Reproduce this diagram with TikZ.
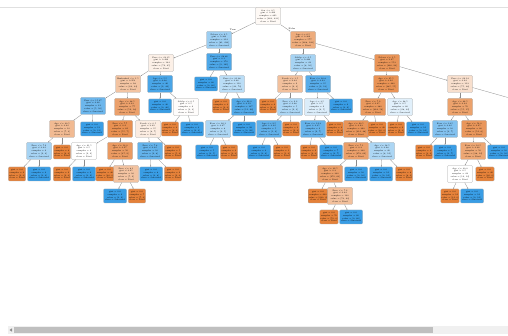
\documentclass[tikz,border=0pt]{standalone}
\usetikzlibrary{arrows.meta}
\definecolor{orn}{HTML}{E58139}
\definecolor{bln}{HTML}{399DE5}
\newcommand\In[5]{#1\\gini = #2\\samples = #3\\value = #4\\class = #5}
\newcommand\Lo[1]{gini = 0.0\\samples = #1\\value = [#1, 0]\\class = Died}
\newcommand\Lb[1]{gini = 0.0\\samples = #1\\value = [0, #1]\\class = Survived}
\tikzset{
 box/.style={draw=black!35, line width=0.25pt, rounded corners=1pt, align=center, inner sep=0.4pt, font=\fontsize{2}{2.8}\selectfont},
 inode/.style={box, minimum width=25pt, minimum height=17pt},
 lo/.style={box, fill=orn, minimum width=16pt, minimum height=14pt},
 lb/.style={box, fill=bln, minimum width=23pt, minimum height=14pt},
 edge/.style={draw=black!45, line width=0.3pt, -{Stealth[length=1.3pt,width=1.1pt]}},
 elab/.style={font=\fontsize{2.2}{2.6}\selectfont, inner sep=0pt},
}
\begin{document}
\begin{tikzpicture}[x=1pt,y=-1pt]
\useasboundingbox (0,0) rectangle (508,336);
\fill[white] (0,0) rectangle (508,336);
\draw[black!12, line width=0.5pt] (0,7) -- (508,7);
% level 0-2
\node[inode,fill=orn!5] (r) at (268,16) {\In{Sex <= 0.5}{0.499}{891}{[460, 431]}{Died}};
\node[inode,fill=bln!50] (a) at (219,40) {\In{Pclass <= 2.5}{0.383}{314}{[81, 233]}{Survived}};
\node[inode,fill=orn!66] (b) at (303,40) {\In{Age <= 6.5}{0.306}{577}{[468, 109]}{Died}};
\node[inode,fill=orn!12] (c) at (161,63) {\In{Fare <= 23.35}{0.496}{144}{[79, 65]}{Died}};
\node[inode,fill=bln!90] (d) at (219,62) {\In{Fare <= 28.86}{0.1}{170}{[9, 161]}{Survived}};
\node[inode,fill=bln!45] (e) at (303,63) {\In{SibSp <= 2.5}{0.444}{24}{[8, 16]}{Survived}};
\node[inode,fill=orn!85] (f) at (387,63) {\In{Pclass <= 1.5}{0.27}{553}{[460, 93]}{Died}};
% level 3
\node[inode,fill=orn!47] (g1) at (128,84) {\In{Embarked <= 1.5}{0.453}{98}{[64, 34]}{Died}};
\node[inode,fill=bln!92] (g2) at (160,84) {\In{Age <= 5.5}{0.08}{46}{[2, 44]}{Survived}};
\node[lb] (g3) at (206,84) {\Lb{60}};
\node[inode,fill=bln!35] (g4) at (232,84) {\In{Fare <= 31.68}{0.46}{110}{[40, 70]}{Survived}};
\node[inode,fill=orn!50] (g5) at (290,84) {\In{Parch <= 1.5}{0.44}{9}{[6, 3]}{Died}};
\node[inode,fill=bln!85] (g6) at (318,84) {\In{Fare <= 20.8}{0.23}{15}{[2, 13]}{Survived}};
\node[inode,fill=orn!86] (g7) at (386,84) {\In{Age <= 25.5}{0.22}{440}{[385, 55]}{Died}};
\node[inode,fill=orn!25] (g8) at (460,84) {\In{Fare <= 26.14}{0.44}{113}{[75, 38]}{Died}};
% level 4
\node[inode,fill=bln!74] (h1) at (93,106) {\In{Fare <= 15.37}{0.36}{21}{[5, 16]}{Survived}};
\node[inode,fill=orn!75] (h2) at (127,107) {\In{Age <= 38.5}{0.33}{77}{[59, 18]}{Died}};
\node[lb] (h3) at (160,106) {\Lb{40}};
\node[inode,fill=orn!2] (h4) at (186,107) {\In{SibSp <= 0.5}{0.5}{6}{[3, 3]}{Died}};
\node[lo] (h5) at (221,106) {\Lo{3}};
\node[inode,fill=bln!87] (h6) at (244,107) {\In{Age <= 22.0}{0.19}{107}{[11, 96]}{Survived}};
\node[lo] (h7) at (268,106) {\Lo{4}};
\node[inode,fill=bln!42] (h8) at (290,107) {\In{Fare <= 9.2}{0.48}{5}{[2, 3]}{Survived}};
\node[inode,fill=bln!18] (h9) at (317,107) {\In{Age <= 3.5}{0.5}{9}{[4, 5]}{Survived}};
\node[lb] (h10) at (341,106) {\Lb{6}};
\node[inode,fill=orn!82] (h11) at (373,107) {\In{Fare <= 7.9}{0.25}{380}{[324, 56]}{Died}};
\node[inode,fill=bln!15] (h12) at (400,107) {\In{Age <= 28.5}{0.5}{60}{[28, 32]}{Survived}};
\node[inode,fill=orn!74] (h13) at (460,107) {\In{Age <= 44.5}{0.34}{70}{[55, 15]}{Died}};
\coordinate (x1) at (545,108);
% level 5
\node[inode,fill=orn!55] (i1) at (62,129) {\In{Age <= 30.5}{0.42}{10}{[7, 3]}{Died}};
\node[lb] (i2) at (92,129) {\Lb{11}};
\node[inode,fill=orn!88] (i3) at (120,129) {\In{Fare <= 7.7}{0.2}{62}{[55, 7]}{Died}};
\node[inode,fill=orn!15] (i4) at (148,129) {\In{Parch <= 0.5}{0.49}{15}{[8, 7]}{Died}};
\node[lo] (i5) at (170,129) {\Lo{3}};
\node[lb] (i6) at (192,129) {\Lb{3}};
\node[inode,fill=bln!42] (i7) at (218,129) {\In{Fare <= 26.1}{0.47}{8}{[3, 5]}{Survived}};
\node[lb] (i8) at (244,129) {\Lb{99}};
\node[inode,fill=bln!80] (i9) at (269,129) {\In{Age <= 9.5}{0.32}{5}{[1, 4]}{Survived}};
\node[lo] (i10) at (291,129) {\Lo{2}};
\node[inode,fill=bln!78] (i11) at (313,129) {\In{Fare <= 12.3}{0.35}{9}{[2, 7]}{Survived}};
\node[lo] (i12) at (335,129) {\Lo{2}};
\node[inode,fill=orn!84] (i13) at (356,129) {\In{Age <= 20.5}{0.23}{360}{[312, 48]}{Died}};
\node[lo] (i14) at (377,129) {\Lo{20}};
\node[lo] (i15) at (396,129) {\Lo{9}};
\node[lb] (i16) at (418,129) {\Lb{12}};
\node[inode,fill=bln!63] (i17) at (445,129) {\In{Fare <= 14.5}{0.42}{10}{[3, 7]}{Survived}};
\node[inode,fill=orn!83] (i18) at (474,129) {\In{Age <= 54.0}{0.25}{60}{[52, 8]}{Died}};
% level 6
\node[inode,fill=bln!45] (j1) at (39,151) {\In{Fare <= 7.9}{0.44}{6}{[2, 4]}{Survived}};
\node[lo] (j2) at (62,152) {\Lo{4}};
\node[inode,fill=white] (j3) at (84,151) {\In{Age <= 21.5}{0.5}{4}{[2, 2]}{Died}};
\node[inode,fill=orn!80] (j4) at (120,151) {\In{Age <= 13.0}{0.27}{56}{[47, 9]}{Died}};
\node[inode,fill=bln!79] (j5) at (150,151) {\In{Fare <= 7.8}{0.32}{10}{[2, 8]}{Survived}};
\node[lo] (j6) at (173,152) {\Lo{5}};
\node[lb] (j7) at (207,152) {\Lb{5}};
\node[lo] (j8) at (229,152) {\Lo{3}};
\node[lb] (j9) at (259,152) {\Lb{4}};
\node[lo] (j10) at (282,152) {\Lo{1}};
\node[lo] (j11) at (309,152) {\Lo{2}};
\node[lb] (j12) at (331,152) {\Lb{7}};
\node[inode,fill=orn!76] (j13) at (356,151) {\In{Fare <= 7.1}{0.3}{340}{[278, 62]}{Died}};
\node[inode,fill=bln!42] (j14) at (382,151) {\In{Age <= 18.5}{0.48}{20}{[8, 12]}{Survived}};
\node[lo] (j15) at (424,152) {\Lo{3}};
\node[lb] (j16) at (445,152) {\Lb{7}};
\node[inode,fill=orn!70] (j17) at (473,151) {\In{Fare <= 10.5}{0.36}{50}{[38, 12]}{Died}};
\node[lb] (j18) at (499,152) {\Lb{10}};
% level 7
\node[lo] (k1) at (17,174) {\Lo{2}};
\node[lb] (k2) at (39,174) {\Lb{4}};
\node[lo] (k3) at (62,174) {\Lo{2}};
\node[lb] (k4) at (84,174) {\Lb{2}};
\node[lo] (k5) at (105,174) {\Lo{40}};
\node[inode,fill=orn!48] (k6) at (126,174) {\In{Fare <= 8.1}{0.45}{16}{[7, 9]}{Died}};
\node[lb] (k7) at (151,174) {\Lb{8}};
\node[lo] (k8) at (173,174) {\Lo{2}};
\node[inode,fill=orn!76] (k9) at (330,174) {\In{Age <= 32.5}{0.3}{330}{[270, 60]}{Died}};
\node[lb] (k10) at (356,174) {\Lb{10}};
\node[lb] (k11) at (381,174) {\Lb{12}};
\node[lo] (k12) at (404,174) {\Lo{8}};
\node[inode,fill=white] (k13) at (460,174) {\In{Age <= 30.0}{0.5}{24}{[12, 12]}{Died}};
\node[lo] (k14) at (485,174) {\Lo{26}};
% level 8-9
\node[lb] (l1) at (115,196) {\Lb{9}};
\node[lo] (l2) at (137,196) {\Lo{7}};
\node[lo] (l3) at (318,196) {\Lo{200}};
\node[inode,fill=orn!50] (l4) at (340,196) {\In{Fare <= 7.2}{0.44}{130}{[70, 60]}{Died}};
\node[lo] (l5) at (450,196) {\Lo{12}};
\node[lb] (l6) at (472,196) {\Lb{12}};
\node[lo] (m1) at (329,217) {\Lo{70}};
\node[lb] (m2) at (351,217) {\Lb{60}};
% edges
\foreach \p/\c in {r/a,r/b,a/c,a/d,b/e,b/f,
 c/g1,c/g2,d/g3,d/g4,e/g5,e/g6,f/g7,f/g8,
 g1/h1,g1/h2,g2/h3,g2/h4,g4/h5,g4/h6,g5/h7,g5/h8,g6/h9,g6/h10,g7/h11,g7/h12,g8/h13,g8/x1,
 h1/i1,h1/i2,h2/i3,h2/i4,h4/i5,h4/i6,h6/i7,h6/i8,h8/i9,h8/i10,h9/i11,h9/i12,h11/i13,h11/i14,h12/i15,h12/i16,h13/i17,h13/i18,
 i1/j1,i1/j2,i3/j3,i3/j4,i4/j5,i4/j6,i7/j7,i7/j8,i9/j9,i9/j10,i11/j11,i11/j12,i13/j13,i13/j14,i17/j15,i17/j16,i18/j17,i18/j18,
 j1/k1,j1/k2,j3/k3,j3/k4,j4/k5,j4/k6,j5/k7,j5/k8,j13/k9,j13/k10,j14/k11,j14/k12,j17/k13,j17/k14,
 k6/l1,k6/l2,k9/l3,k9/l4,k13/l5,k13/l6,l4/m1,l4/m2}
 \draw[edge] (\p) -- (\c);
\node[elab] (tl) at (233,30) {True};
\node[elab] (fl) at (292,29) {False};
% scrollbar
\fill[black!6] (8,326) rectangle (508,334);
\fill[black!25] (14,327.3) rectangle (433,332.7);
\fill[black!45] (9.5,330) -- (12,328.3) -- (12,331.7) -- cycle;
\end{tikzpicture}
\end{document}
